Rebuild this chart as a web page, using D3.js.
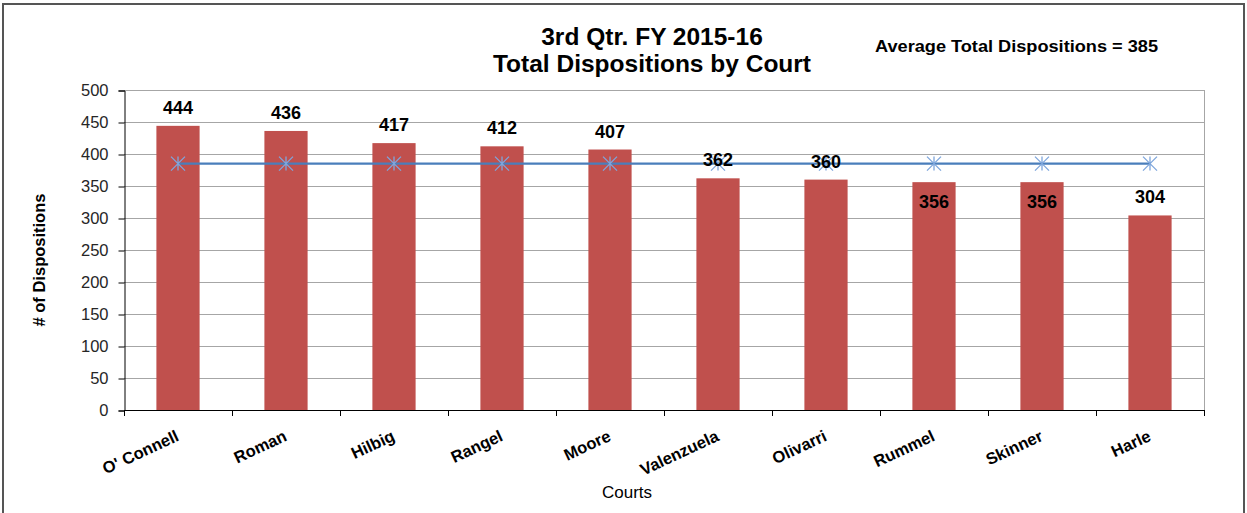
<!DOCTYPE html>
<html lang="en">
<head>
<title>Total Dispositions by Court</title>
<meta charset="utf-8">
<script src="https://cdn.jsdelivr.net/npm/d3@7"></script>
<style type="text/css">
body { margin: 0; background: #fff; font-family: "Liberation Sans", Arial, sans-serif; }
</style>
</head>
<body>
<div id="vis"></div>
<script>

/* Data */
/* ==== */

var courts = ['O\' Connell', 'Roman', 'Hilbig', 'Rangel', 'Moore', 'Valenzuela', 'Olivarri', 'Rummel', 'Skinner', 'Harle'];
var dispositions = [444, 436, 417, 412, 407, 362, 360, 356, 356, 304];
var averageDispositions = 385;
var labelInside = ['Rummel', 'Skinner']; // labels sit inside the bar for these
var yTicks = [0, 50, 100, 150, 200, 250, 300, 350, 400, 450, 500];

/* Globals and SVG */
/* =============== */

var W = 1247, H = 513;
var plot = { left: 124, right: 1204, top: 90, bottom: 410 };

var svg = d3.select('#vis')
	.append('svg')
		.attr('width', W)
		.attr('height', H);

// outer frame (bottom edge falls outside the picture)
svg.append('rect')
	.attr('x', 3).attr('y', 4)
	.attr('width', 1241).attr('height', 520)
	.attr('fill', '#fff')
	.attr('stroke', '#555')
	.attr('stroke-width', 2);

var x = d3.scaleBand()
	.domain(courts)
	.range([plot.left, plot.right])
	.paddingInner(0.6)
	.paddingOuter(0.3);

var y = d3.scaleLinear()
	.domain([0, 500])
	.range([plot.bottom, plot.top]);

/* Grid and axes */
/* ============= */

svg.append('g')
	.selectAll('line')
	.data(yTicks.filter(function(d) { return d > 0; }))
	.join('line')
		.attr('x1', plot.left).attr('x2', plot.right)
		.attr('y1', function(d) { return y(d) + 0.5; })
		.attr('y2', function(d) { return y(d) + 0.5; })
		.attr('stroke', '#a6a6a6');

svg.append('line')
	.attr('x1', plot.right + 0.5).attr('x2', plot.right + 0.5)
	.attr('y1', plot.top).attr('y2', plot.bottom)
	.attr('stroke', '#a6a6a6');

var yAxis = svg.append('g')
	.attr('transform', 'translate(' + (plot.left + 0.5) + ',0.5)')
	.call(d3.axisLeft(y).tickValues(yTicks).tickSize(6).tickPadding(10));
yAxis.select('.domain').attr('stroke', '#000');
yAxis.selectAll('.tick line').attr('stroke', '#000');
yAxis.selectAll('.tick text')
	.attr('font-family', '"Liberation Sans", Arial, sans-serif')
	.attr('font-size', 16.5)
	.attr('fill', '#262626');

/* Bars */
/* ==== */

svg.append('g')
	.selectAll('rect')
	.data(courts)
	.join('rect')
		.attr('x', function(d) { return x(d); })
		.attr('width', x.bandwidth())
		.attr('y', function(d, i) { return y(dispositions[i]); })
		.attr('height', function(d, i) { return y(0) - y(dispositions[i]); })
		.attr('fill', '#c0504d');

// x axis with ticks on category boundaries
var xBound = d3.range(courts.length + 1).map(function(i) { return plot.left + i * (plot.right - plot.left) / courts.length; });
svg.append('line')
	.attr('x1', plot.left).attr('x2', plot.right + 1)
	.attr('y1', plot.bottom + 0.5).attr('y2', plot.bottom + 0.5)
	.attr('stroke', '#000');
svg.append('g')
	.selectAll('line')
	.data(xBound)
	.join('line')
		.attr('x1', function(d) { return Math.round(d) + 0.5; })
		.attr('x2', function(d) { return Math.round(d) + 0.5; })
		.attr('y1', plot.bottom).attr('y2', plot.bottom + 6)
		.attr('stroke', '#000');

svg.append('g')
	.selectAll('text')
	.data(courts)
	.join('text')
		.attr('transform', function(d) {
			return 'translate(' + (x(d) + x.bandwidth() / 2 + 2) + ',' + 440 + ') rotate(-25)';
		})
		.attr('text-anchor', 'end')
		.attr('font-size', 16.5)
		.attr('font-weight', 'bold')
		.attr('fill', '#000')
		.text(function(d) { return d; });

/* Average line */
/* ============ */

var cx = function(d) { return x(d) + x.bandwidth() / 2; };

svg.append('path')
	.datum(courts)
	.attr('d', d3.line().x(cx).y(function() { return y(averageDispositions); }))
	.attr('fill', 'none')
	.attr('stroke', '#4a7ebb')
	.attr('stroke-width', 2.25);

svg.append('g')
	.selectAll('path')
	.data(courts)
	.join('path')
		.attr('d', function(d) {
			var px = cx(d), py = y(averageDispositions), r = 7;
			return 'M' + (px - r) + ',' + (py - r) + 'L' + (px + r) + ',' + (py + r) +
				'M' + (px - r) + ',' + (py + r) + 'L' + (px + r) + ',' + (py - r) +
				'M' + px + ',' + (py - r) + 'L' + px + ',' + (py + r);
		})
		.attr('stroke', '#7ea6dc')
		.attr('stroke-width', 1.3)
		.attr('fill', 'none');

/* Data labels */
/* =========== */

svg.append('g')
	.selectAll('text')
	.data(courts)
	.join('text')
		.attr('x', cx)
		.attr('y', function(d, i) {
			var top = y(dispositions[i]);
			return labelInside.indexOf(d) >= 0 ? top + 26 : top - 12;
		})
		.attr('text-anchor', 'middle')
		.attr('font-size', 18)
		.attr('font-weight', 'bold')
		.attr('fill', '#000')
		.text(function(d, i) { return dispositions[i]; });

/* Titles */
/* ====== */

svg.append('text')
	.attr('x', 652).attr('y', 45)
	.attr('text-anchor', 'middle')
	.attr('font-size', 24.5)
	.attr('font-weight', 'bold')
	.text('3rd Qtr. FY 2015-16');

svg.append('text')
	.attr('x', 652).attr('y', 72)
	.attr('text-anchor', 'middle')
	.attr('font-size', 24.5)
	.attr('font-weight', 'bold')
	.text('Total Dispositions by Court');

svg.append('text')
	.attr('x', 875).attr('y', 52)
	.attr('font-size', 16)
	.attr('font-weight', 'bold')
	.attr('textLength', 283)
	.attr('lengthAdjust', 'spacingAndGlyphs')
	.text('Average Total Dispositions = ' + averageDispositions);

svg.append('text')
	.attr('transform', 'translate(45,260) rotate(-90)')
	.attr('text-anchor', 'middle')
	.attr('font-size', 16.5)
	.attr('font-weight', 'bold')
	.text('# of Dispositions');

svg.append('text')
	.attr('x', 627).attr('y', 498)
	.attr('text-anchor', 'middle')
	.attr('font-size', 17)
	.text('Courts');

</script>
</body>
</html>
